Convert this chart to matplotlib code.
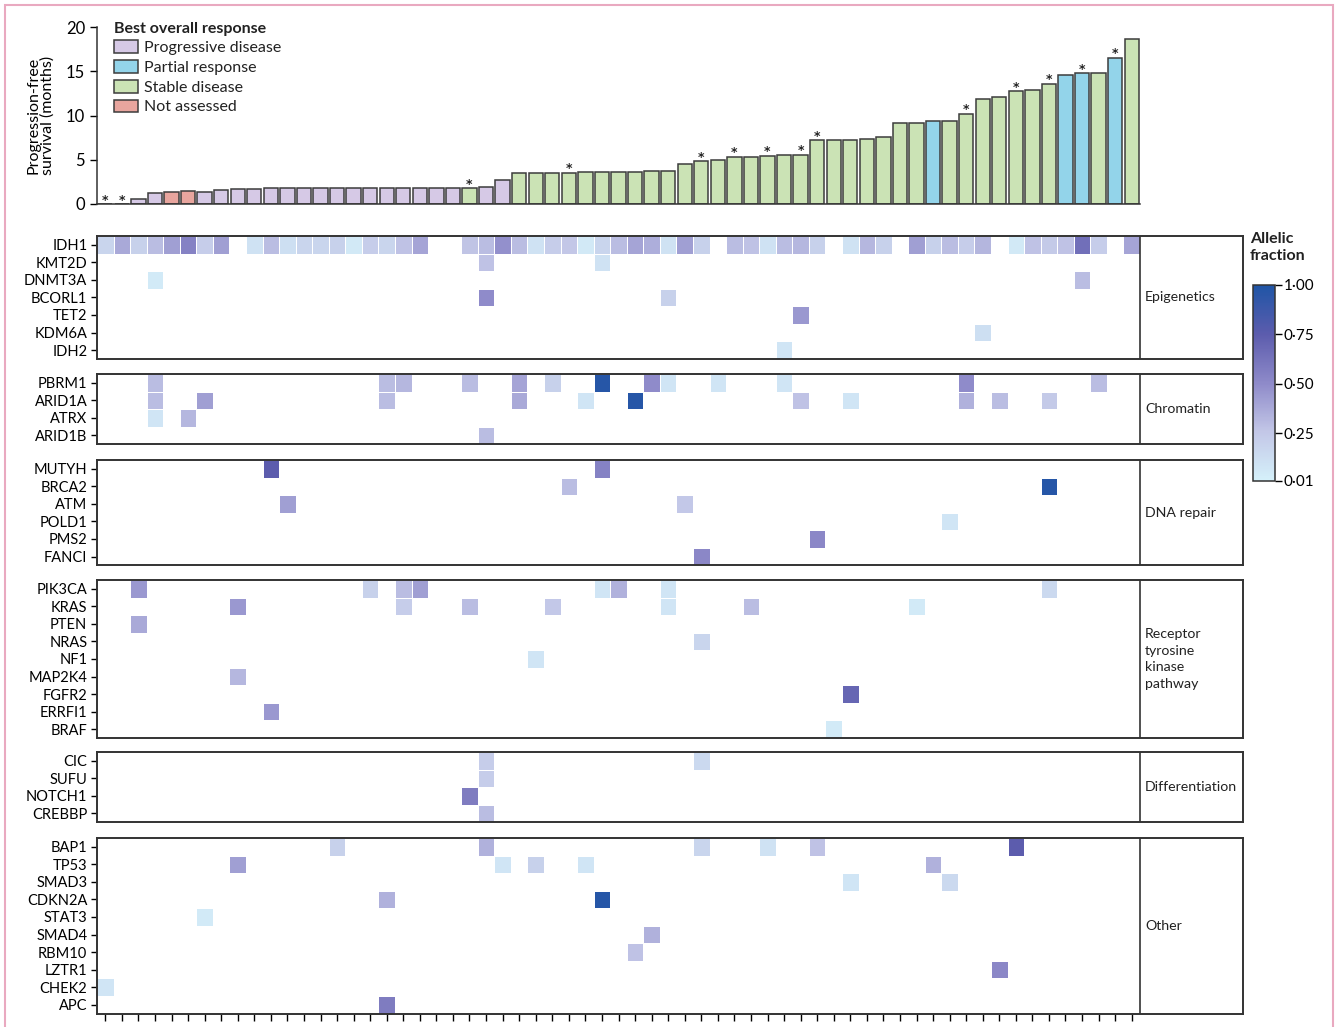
import numpy as np
import matplotlib
matplotlib.use("Agg")
import matplotlib.pyplot as plt
from matplotlib import font_manager
from matplotlib.colors import LinearSegmentedColormap, Normalize
from matplotlib.patches import Patch, Rectangle
import matplotlib.colorbar as mcolorbar

# ---- data -------------------------------------------------------------
n_pat = 63

pfs = [0, 0, 0.6, 1.24, 1.35, 1.47, 1.4, 1.6, 1.72, 1.75,
       1.78, 1.78, 1.78, 1.78, 1.78, 1.78, 1.8, 1.8, 1.8, 1.8,
       1.8, 1.8, 1.78, 1.92, 2.7, 3.55, 3.55, 3.55, 3.55, 3.6,
       3.6, 3.6, 3.6, 3.75, 3.75, 4.5, 4.85, 5.0, 5.35, 5.35,
       5.45, 5.55, 5.55, 7.2, 7.2, 7.2, 7.3, 7.55, 9.1, 9.2,
       9.35, 9.35, 10.2, 11.9, 12.05, 12.75, 12.9, 13.6, 14.6, 14.75,
       14.75, 16.55, 18.6]

response = (["PD"] * 4 + ["NA"] * 2 + ["PD"] * 16 + ["SD"] + ["PD"] * 2
            + ["SD"] * 25 + ["PR"] + ["SD"] * 7 + ["PR"] * 2 + ["SD"]
            + ["PR"] + ["SD"])

starred = [0, 1, 22, 28, 36, 38, 40, 42, 43, 52, 55, 57, 59, 61]

resp_labels = {"PD": "Progressive disease", "PR": "Partial response",
               "SD": "Stable disease", "NA": "Not assessed"}
resp_colors = {"PD": "#d6c9e6", "PR": "#93d4ea", "SD": "#cbe3b5", "NA": "#e8a59e"}

# IDH1: allelic fraction per patient (nan = no mutation)
nan = np.nan
idh1 = [0.18, 0.38, 0.2, 0.3, 0.42, 0.55, 0.22, 0.42, nan, 0.1,
        0.3, 0.12, 0.18, 0.18, 0.2, 0.06, 0.22, 0.18, 0.28, 0.4,
        nan, nan, 0.27, 0.3, 0.48, 0.3, 0.1, 0.22, 0.26, 0.06,
        0.18, 0.3, 0.4, 0.36, 0.1, 0.42, 0.2, nan, 0.3, 0.28,
        0.1, 0.3, 0.32, 0.2, nan, 0.1, 0.32, 0.2, nan, 0.42,
        0.2, 0.3, 0.22, 0.33, nan, 0.06, 0.28, 0.24, 0.28, 0.65,
        0.22, nan, 0.4]

# other genes: {patient index: allelic fraction}
epigenetics = {
    "KMT2D": {23: 0.28, 30: 0.1},
    "DNMT3A": {3: 0.05, 59: 0.3},
    "BCORL1": {23: 0.5, 34: 0.2},
    "TET2": {42: 0.45},
    "KDM6A": {53: 0.12},
    "IDH2": {41: 0.08},
}

chromatin = {
    "PBRM1": {3: 0.3, 17: 0.3, 18: 0.32, 22: 0.3, 25: 0.4, 27: 0.2, 30: 0.97,
              33: 0.5, 34: 0.08, 37: 0.08, 41: 0.08, 52: 0.5, 60: 0.3},
    "ARID1A": {3: 0.3, 6: 0.42, 17: 0.3, 25: 0.38, 29: 0.08, 32: 0.97,
               42: 0.28, 45: 0.08, 52: 0.35, 54: 0.3, 57: 0.24},
    "ATRX": {3: 0.08, 5: 0.32},
    "ARID1B": {23: 0.3},
}

dna_repair = {
    "MUTYH": {10: 0.75, 30: 0.55},
    "BRCA2": {28: 0.3, 57: 0.97},
    "ATM": {11: 0.42, 35: 0.25},
    "POLD1": {51: 0.08},
    "PMS2": {43: 0.52},
    "FANCI": {36: 0.52},
}

rtk = {
    "PIK3CA": {2: 0.45, 16: 0.2, 18: 0.3, 19: 0.42, 30: 0.08, 31: 0.35,
               34: 0.08, 57: 0.15},
    "KRAS": {8: 0.45, 18: 0.22, 22: 0.3, 27: 0.25, 34: 0.08, 39: 0.3, 49: 0.05},
    "PTEN": {2: 0.38},
    "NRAS": {36: 0.18},
    "NF1": {26: 0.08},
    "MAP2K4": {8: 0.32},
    "FGFR2": {45: 0.7},
    "ERRFI1": {10: 0.45},
    "BRAF": {44: 0.05},
}

differentiation = {
    "CIC": {23: 0.22, 36: 0.15},
    "SUFU": {23: 0.22},
    "NOTCH1": {22: 0.58},
    "CREBBP": {23: 0.3},
}

other = {
    "BAP1": {14: 0.2, 23: 0.35, 36: 0.18, 40: 0.1, 43: 0.28, 55: 0.75},
    "TP53": {8: 0.42, 24: 0.08, 26: 0.2, 29: 0.08, 50: 0.35},
    "SMAD3": {45: 0.08, 51: 0.15},
    "CDKN2A": {17: 0.35, 30: 0.97},
    "STAT3": {6: 0.05},
    "SMAD4": {33: 0.35},
    "RBM10": {32: 0.28},
    "LZTR1": {54: 0.52},
    "CHEK2": {0: 0.08},
    "APC": {17: 0.58},
}

groups = [
    ("Epigenetics", epigenetics),
    ("Chromatin", chromatin),
    ("DNA repair", dna_repair),
    ("Receptor\ntyrosine\nkinase\npathway", rtk),
    ("Differentiation", differentiation),
    ("Other", other),
]

# ---- style ------------------------------------------------------------
names = {f.name for f in font_manager.fontManager.ttflist}
base_font = "Lato" if "Lato" in names else "Liberation Sans"
plt.rcParams["font.family"] = [base_font, "DejaVu Sans"]
plt.rcParams["text.color"] = "#222222"
plt.rcParams["axes.edgecolor"] = "#333333"

cmap = LinearSegmentedColormap.from_list(
    "af", [(0.0, "#d5f1fa"), (0.25, "#c3c7e7"), (0.5, "#8e8ac9"),
           (0.75, "#5c5cad"), (1.0, "#1f55a6")])
norm = Normalize(vmin=0.01, vmax=1.0)

W, H = 1338, 1027
fig = plt.figure(figsize=(W / 100, H / 100), dpi=100)


def fx(px):
    return px / W


def fy(px):
    return 1 - px / H


# pink frame
fig.patches.append(Rectangle((fx(5), -0.02), fx(1328), fy(5) + 0.02,
                             transform=fig.transFigure, fill=False,
                             edgecolor="#e9a9c0", linewidth=1.5))

# ---- bar chart -------------------------------------------------------
left_px, right_px = 97, 1140
ax = fig.add_axes([fx(left_px), fy(204), fx(right_px - left_px), (204 - 27) / H])
x = np.arange(n_pat)
ax.bar(x, pfs, width=0.86, color=[resp_colors[r] for r in response],
       edgecolor="#3c3c3c", linewidth=1.1)
for i in starred:
    ax.text(i, pfs[i] + 0.05, "*", ha="center", va="baseline", fontsize=9,
            fontweight="bold", family="DejaVu Sans")
ax.set_xlim(-0.5, n_pat - 0.5)
ax.set_ylim(0, 20)
ax.set_yticks([0, 5, 10, 15, 20])
ax.tick_params(axis="y", labelsize=12, length=5, width=1)
ax.set_xticks([])
for s in ["top", "right"]:
    ax.spines[s].set_visible(False)
ax.spines["left"].set_linewidth(1.1)
ax.spines["bottom"].set_linewidth(1.1)
ax.set_ylabel("Progression-free\nsurvival (months)", fontsize=11.5, labelpad=8,
              linespacing=1.0)

handles = [Patch(facecolor=resp_colors[k], edgecolor="#3c3c3c", linewidth=1.1,
                 label=resp_labels[k]) for k in ["PD", "PR", "SD", "NA"]]
leg = ax.legend(handles=handles, loc="upper left", bbox_to_anchor=(0.016, 1.03),
                frameon=False, fontsize=11.5, title="Best overall response",
                title_fontproperties={"weight": "bold", "size": 11.5},
                alignment="left", handlelength=1.5, handleheight=0.85,
                labelspacing=0.3, handletextpad=0.4, borderpad=0, borderaxespad=0)

# ---- heatmap panels --------------------------------------------------
row_h = 17.55
panel_tops = [236, 374, 460, 580, 752, 838]
label_px = 1243
extra = (label_px - right_px) / ((right_px - left_px) / n_pat)

for gi, ((gname, genes), top) in enumerate(zip(groups, panel_tops)):
    gene_names = list(genes.keys())
    if gname == "Epigenetics":
        gene_names = ["IDH1"] + gene_names
    nrow = len(gene_names)
    mat = np.full((nrow, n_pat), np.nan)
    for r, g in enumerate(gene_names):
        if g == "IDH1":
            mat[r] = idh1
        else:
            for c, v in genes[g].items():
                mat[r, c] = v
    hpx = nrow * row_h
    hax = fig.add_axes([fx(left_px), fy(top + hpx), fx(label_px - left_px), hpx / H])
    hax.pcolormesh(np.arange(n_pat + 1) - 0.5, np.arange(nrow + 1) - 0.5,
                   np.ma.masked_invalid(mat), cmap=cmap, norm=norm,
                   edgecolors="white", linewidth=0.7)
    hax.set_xlim(-0.5, n_pat - 0.5 + extra)
    hax.set_ylim(nrow - 0.5, -0.5)
    hax.axvline(n_pat - 0.5, color="#333333", linewidth=1.2)
    hax.set_yticks(np.arange(nrow))
    hax.set_yticklabels(gene_names, fontsize=10.5)
    hax.tick_params(axis="y", length=4, width=1, pad=3)
    for s in hax.spines.values():
        s.set_linewidth(1.4)
    hax.text(n_pat - 0.5 + 0.3, (nrow - 1) / 2, gname, ha="left", va="center",
             fontsize=10.2, linespacing=1.45)
    if gi == len(groups) - 1:
        hax.set_xticks(np.arange(n_pat))
        hax.set_xticklabels([])
        hax.tick_params(axis="x", length=5, width=1)
    else:
        hax.set_xticks([])

# ---- colour bar ------------------------------------------------------
cax = fig.add_axes([fx(1253), fy(481), fx(22), (481 - 285) / H])
cb = mcolorbar.ColorbarBase(cax, cmap=cmap, norm=norm, orientation="vertical")
cb.set_ticks([0.01, 0.25, 0.5, 0.75, 1.0])
cb.set_ticklabels(["0\u00b701", "0\u00b725", "0\u00b750", "0\u00b775", "1\u00b700"])
cb.ax.tick_params(labelsize=11, length=5, width=1, pad=1)
cb.outline.set_linewidth(1.1)
fig.text(fx(1250), fy(232), "Allelic\nfraction", ha="left", va="top",
         fontsize=11.5, fontweight="bold", linespacing=1.3)

fig.savefig("out.png", dpi=100)
